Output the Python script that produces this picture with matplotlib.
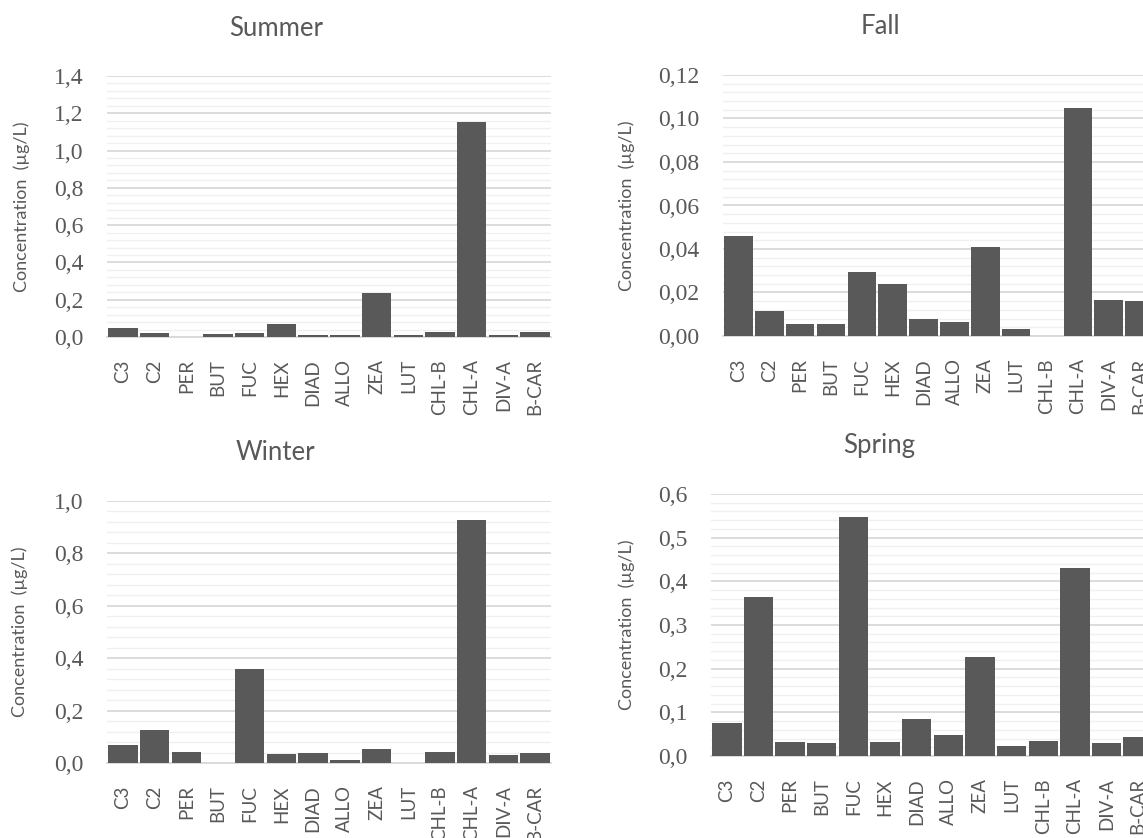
import numpy as np
import matplotlib
matplotlib.use("Agg")
import matplotlib.pyplot as plt
from matplotlib.ticker import MultipleLocator, FuncFormatter

# pigments on the x axis
pigments = ["C3", "C2", "PER", "BUT", "FUC", "HEX", "DIAD", "ALLO", "ZEA",
            "LUT", "CHL-B", "CHL-A", "DIV-A", "B-CAR"]

# concentrations (ug/L)
summer = [0.048, 0.023, 0.0, 0.014, 0.021, 0.070, 0.009, 0.009, 0.235,
          0.009, 0.029, 1.155, 0.009, 0.029]
fall = [0.046, 0.0113, 0.0055, 0.0055, 0.0296, 0.0238, 0.0078, 0.0066, 0.0408,
        0.0031, 0.0, 0.105, 0.0167, 0.0161]
winter = [0.070, 0.127, 0.043, 0.0, 0.358, 0.036, 0.040, 0.010, 0.054,
          0.0, 0.043, 0.927, 0.031, 0.040]
spring = [0.076, 0.365, 0.033, 0.030, 0.547, 0.033, 0.0855, 0.047, 0.227,
          0.024, 0.035, 0.430, 0.030, 0.044]

W, H = 1143, 838
TXT = "#595959"
BAR = "#595959"

fig = plt.figure(figsize=(W / 100, H / 100), dpi=100)


def px_axes(x0, y0, x1, y1):
    # pixel box (top-left origin) -> figure fraction axes
    return fig.add_axes([x0 / W, 1 - y1 / H, (x1 - x0) / W, (y1 - y0) / H])


def comma_fmt(nd):
    return FuncFormatter(lambda v, p: f"{v:.{nd}f}".replace(".", ","))


panels = [
    ("Summer", summer, (107, 76, 551, 337), 1.4, 0.2, 1, (276, 28), 22),
    ("Fall", fall, (723, 75, 1155, 336), 0.12, 0.02, 2, (880, 26), 627),
    ("Winter", winter, (107, 501, 551, 763), 1.0, 0.2, 1, (275, 453), 20),
    ("Spring", spring, (711, 494, 1154, 756), 0.6, 0.1, 1, (879, 445), 627),
]

x = np.arange(len(pigments))
for title, vals, box, top, major, nd, tpos, ylx in panels:
    ax = px_axes(*box)
    ax.bar(x, vals, width=0.93, color=BAR, zorder=3)
    ax.set_xlim(-0.5, len(pigments) - 0.5)
    ax.set_ylim(0, top)
    ax.yaxis.set_major_locator(MultipleLocator(major))
    ax.yaxis.set_minor_locator(MultipleLocator(major / 5))
    ax.yaxis.set_major_formatter(comma_fmt(nd))
    ax.grid(axis="y", which="major", color="#d9d9d9", lw=1.3, zorder=0)
    ax.grid(axis="y", which="minor", color="#f0f0f0", lw=1.0, zorder=0)
    for s in ["top", "right", "left"]:
        ax.spines[s].set_visible(False)
    ax.spines["bottom"].set_color("#d9d9d9")
    ax.spines["bottom"].set_linewidth(1.3)
    ax.spines["bottom"].set_zorder(2)
    ax.tick_params(which="both", length=0)
    ax.tick_params(axis="y", pad=17, labelsize=17, labelcolor=TXT)
    ax.tick_params(axis="x", pad=16, labelcolor=TXT)
    for lab in ax.get_yticklabels():
        lab.set_family("Liberation Serif")
    ax.set_xticks(x)
    ax.set_xticklabels(pigments, rotation=90, family="Lato", fontsize=13.5)
    fig.text(tpos[0] / W, 1 - tpos[1] / H, title, ha="center", va="center",
             family="Lato", fontsize=18.5, color=TXT)
    yc = (box[1] + box[3]) / 2
    fig.text(ylx / W, 1 - yc / H, "Concentration  (\u00b5g/L)", rotation=90,
             ha="center", va="center", family="Lato", fontsize=13, color=TXT)

fig.savefig("out.png", dpi=100)
